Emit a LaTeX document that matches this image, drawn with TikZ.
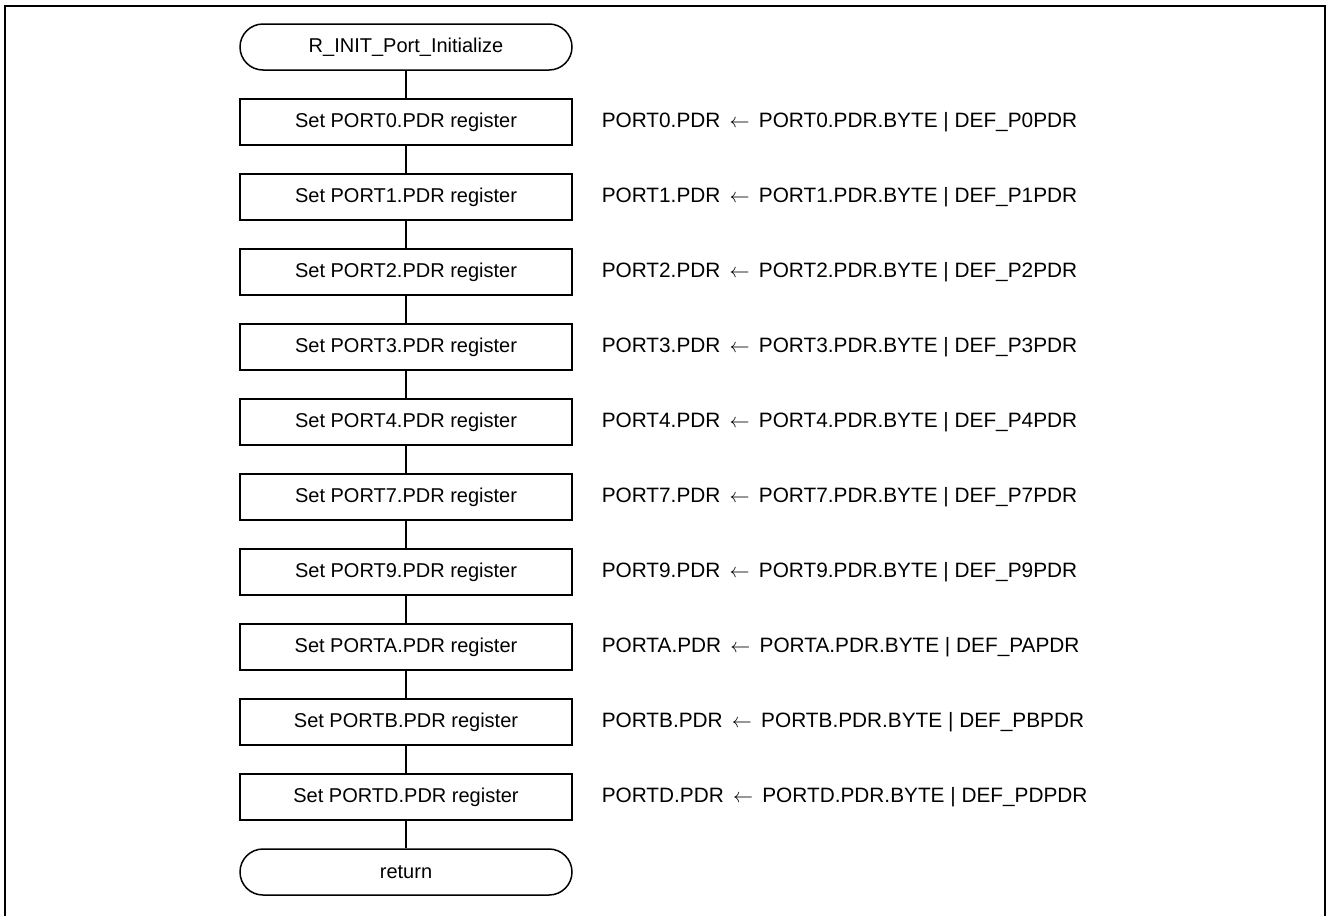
\documentclass[tikz,border=0pt]{standalone}
\usepackage{fontspec}
\setmainfont{Liberation Sans}

\newcommand{\assign}{\,$\leftarrow$\,}

\begin{document}
\begin{tikzpicture}
[x=0.5pt,y=-0.5pt,inner sep=0pt,line width=0.75pt,font=\fontsize{10pt}{12pt}\selectfont,
term/.style={rectangle,draw,rounded corners=11.5pt,minimum width=166pt,minimum height=23pt},
proc/.style={rectangle,draw,minimum width=166pt,minimum height=23pt},
expr/.style={anchor=west,font=\fontsize{10.4pt}{12pt}\selectfont}]
\useasboundingbox (0,0) rectangle (1326,916);
\draw[line width=1pt] (5,916) -- (5,6) -- (1325,6) -- (1325,916);
\node (start) at (406,47) [term] {R\_INIT\_Port\_Initialize};
\node (p0) at (406,122) [proc] {Set PORT0.PDR register};
\node (p1) at (406,197) [proc] {Set PORT1.PDR register};
\node (p2) at (406,272) [proc] {Set PORT2.PDR register};
\node (p3) at (406,347) [proc] {Set PORT3.PDR register};
\node (p4) at (406,422) [proc] {Set PORT4.PDR register};
\node (p7) at (406,497) [proc] {Set PORT7.PDR register};
\node (p9) at (406,572) [proc] {Set PORT9.PDR register};
\node (pA) at (406,647) [proc] {Set PORTA.PDR register};
\node (pB) at (406,722) [proc] {Set PORTB.PDR register};
\node (pD) at (406,797) [proc] {Set PORTD.PDR register};
\node (ret) at (406,872) [term] {return};
\node (e0) at (601,122) [expr] {PORT0.PDR \assign{} PORT0.PDR.BYTE | DEF\_P0PDR};
\node (e1) at (601,197) [expr] {PORT1.PDR \assign{} PORT1.PDR.BYTE | DEF\_P1PDR};
\node (e2) at (601,272) [expr] {PORT2.PDR \assign{} PORT2.PDR.BYTE | DEF\_P2PDR};
\node (e3) at (601,347) [expr] {PORT3.PDR \assign{} PORT3.PDR.BYTE | DEF\_P3PDR};
\node (e4) at (601,422) [expr] {PORT4.PDR \assign{} PORT4.PDR.BYTE | DEF\_P4PDR};
\node (e7) at (601,497) [expr] {PORT7.PDR \assign{} PORT7.PDR.BYTE | DEF\_P7PDR};
\node (e9) at (601,572) [expr] {PORT9.PDR \assign{} PORT9.PDR.BYTE | DEF\_P9PDR};
\node (eA) at (601,647) [expr] {PORTA.PDR \assign{} PORTA.PDR.BYTE | DEF\_PAPDR};
\node (eB) at (601,722) [expr] {PORTB.PDR \assign{} PORTB.PDR.BYTE | DEF\_PBPDR};
\node (eD) at (601,797) [expr] {PORTD.PDR \assign{} PORTD.PDR.BYTE | DEF\_PDPDR};
\draw (start) -- (p0);
\draw (p0) -- (p1);
\draw (p1) -- (p2);
\draw (p2) -- (p3);
\draw (p3) -- (p4);
\draw (p4) -- (p7);
\draw (p7) -- (p9);
\draw (p9) -- (pA);
\draw (pA) -- (pB);
\draw (pB) -- (pD);
\draw (pD) -- (ret);
\end{tikzpicture}
\end{document}
